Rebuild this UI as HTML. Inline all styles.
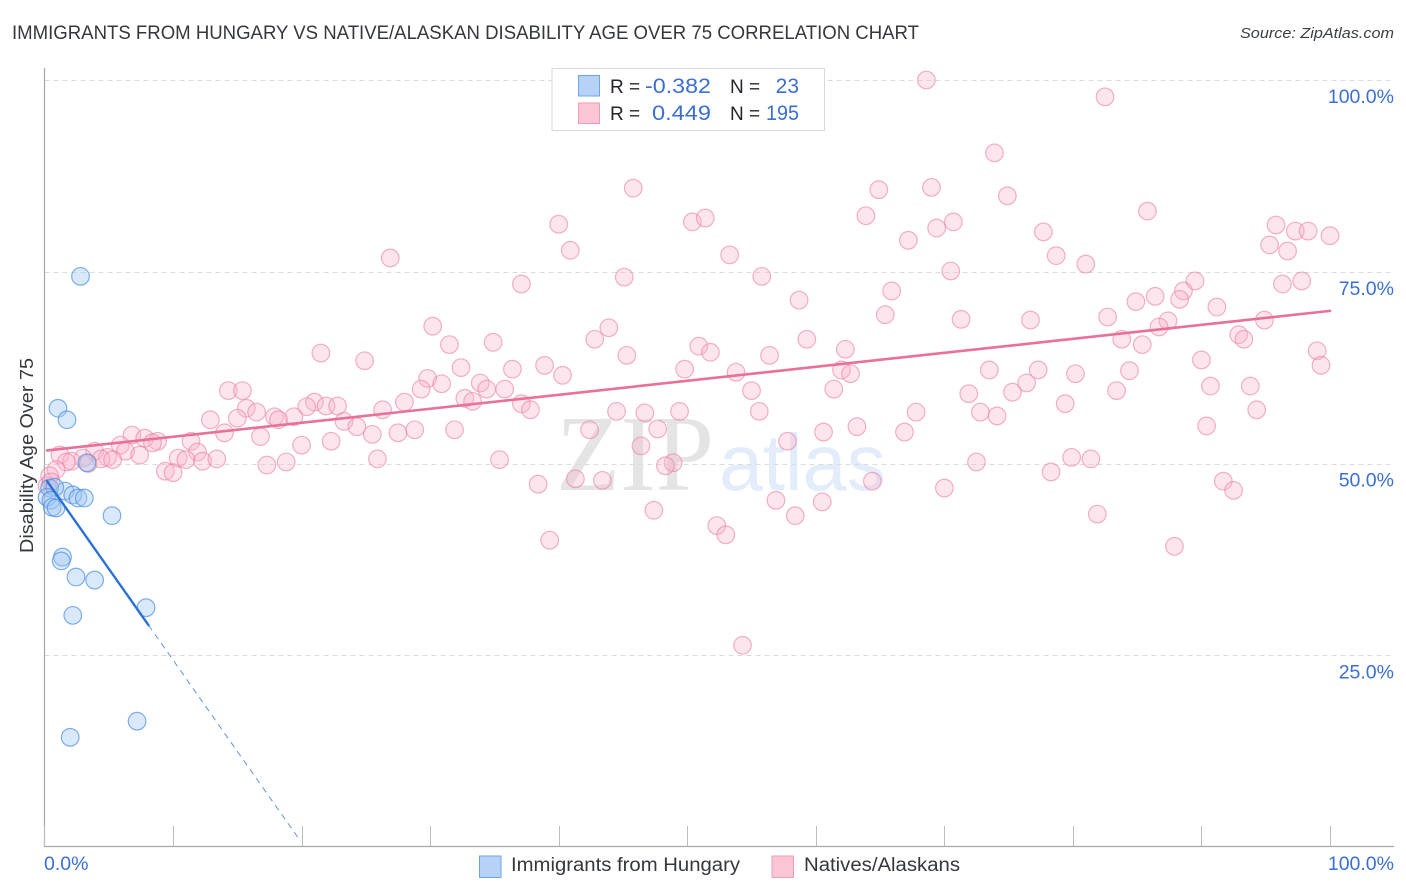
<!DOCTYPE html>
<html lang="en">
<head>
<meta charset="utf-8">
<title>Immigrants from Hungary vs Native/Alaskan Disability Age Over 75 Correlation Chart</title>
<style>
html,body{margin:0;padding:0;background:#fff;}
svg{display:block;font-family:"Liberation Sans",sans-serif;}
</style>
</head>
<body>
<svg id="chart" xmlns="http://www.w3.org/2000/svg" width="1406" height="892" viewBox="0 0 1406 892">
  <defs>
    <filter id="soft" x="-5%" y="-5%" width="110%" height="110%"><feGaussianBlur stdDeviation="0.35"/></filter>
  </defs>
  <rect x="0" y="0" width="1406" height="892" fill="#ffffff"/>
  <text x="12" y="39" font-size="19" fill="#34383c" textLength="907" lengthAdjust="spacingAndGlyphs">IMMIGRANTS FROM HUNGARY VS NATIVE/ALASKAN DISABILITY AGE OVER 75 CORRELATION CHART</text>
  <text x="1394" y="38" font-size="15" font-style="italic" fill="#3a3f44" text-anchor="end" textLength="154" lengthAdjust="spacingAndGlyphs">Source: ZipAtlas.com</text>

  <g id="watermark">
    <text x="556" y="490" font-family="'Liberation Serif',serif" font-size="108" font-weight="400" fill="#e4e4e4" textLength="158" lengthAdjust="spacingAndGlyphs">ZIP</text>
    <text x="719" y="490" font-size="80" fill="#e3ecfa" textLength="167" lengthAdjust="spacingAndGlyphs">atlas</text>
  </g>

  <g id="grid"></g>
  <g id="axes"></g>
  <g id="natives-points" filter="url(#soft)"></g>
  <g id="hungary-points" filter="url(#soft)"></g>
  <g id="trends"></g>
  <g id="tick-labels"></g>

  <text transform="translate(33,553) rotate(-90)" font-size="18" fill="#34383c" textLength="195" lengthAdjust="spacingAndGlyphs">Disability Age Over 75</text>

  <g>
    <rect x="552" y="68.500" width="272.500" height="62" fill="#ffffff" stroke="#d9d9d9" stroke-width="1"/>
    <rect x="578.500" y="75.500" width="21" height="20.500" fill="#b6d2f6" stroke="#6fa3e6" stroke-width="1"/>
    <rect x="578.500" y="103" width="21" height="20.500" fill="#fcc5d6" stroke="#ef9db6" stroke-width="1"/>
    <text x="610" y="93" font-size="19" fill="#22262a">R =</text>
    <text x="711" y="93" font-size="21" fill="#3b6fd1" text-anchor="end" textLength="66" lengthAdjust="spacingAndGlyphs">-0.382</text>
    <text x="730" y="93" font-size="19" fill="#22262a">N =</text>
    <text x="799" y="93" font-size="21" fill="#3b6fd1" text-anchor="end">23</text>
    <text x="610" y="120" font-size="19" fill="#22262a">R =</text>
    <text x="711" y="120" font-size="21" fill="#3b6fd1" text-anchor="end" textLength="59" lengthAdjust="spacingAndGlyphs">0.449</text>
    <text x="730" y="120" font-size="19" fill="#22262a">N =</text>
    <text x="799" y="120" font-size="21" fill="#3b6fd1" text-anchor="end" textLength="33" lengthAdjust="spacingAndGlyphs">195</text>
  </g>

  <g>
    <rect x="479.500" y="856" width="21.500" height="21.500" fill="#b6d2f6" stroke="#6fa3e6" stroke-width="1"/>
    <text x="511" y="871" font-size="19" fill="#34383c" textLength="229" lengthAdjust="spacingAndGlyphs">Immigrants from Hungary</text>
    <rect x="772" y="856" width="21.500" height="21.500" fill="#fcc5d6" stroke="#ef9db6" stroke-width="1"/>
    <text x="804" y="871" font-size="19" fill="#34383c" textLength="156" lengthAdjust="spacingAndGlyphs">Natives/Alaskans</text>
  </g>
</svg>
<script>
var nativesX = [68.6,82.5,73.9,45.8,64.9,69.0,74.9,85.8,63.9,40.0,50.4,51.4,69.4,70.7,67.2,77.7,95.8,97.3,98.3,100.0,95.3,96.7,40.9,53.3,26.9,78.7,81.0,70.5,45.1,55.8,37.1,96.3,97.8,89.5,65.9,86.4,88.6,88.3,58.7,84.9,91.2,65.4,71.3,76.7,82.7,87.4,94.9,86.7,30.2,43.9,92.9,93.3,42.8,59.3,83.8,85.4,31.5,34.9,50.9,62.3,51.8,99.0,21.5,45.3,56.4,90.0,24.9,99.3,38.9,32.4,36.4,49.8,73.5,77.3,53.8,62.0,62.7,80.2,84.4,40.3,29.8,30.9,76.4,33.9,90.7,93.8,29.3,34.4,35.8,61.4,55.0,83.4,14.3,15.4,71.9,75.3,32.7,33.3,28.0,21.0,20.4,21.9,22.8,37.1,79.4,37.8,15.7,16.5,26.3,44.5,46.7,49.4,55.6,67.8,72.8,94.3,15.0,12.9,17.9,19.4,18.2,23.3,74.1,24.3,90.4,42.4,47.7,63.2,60.6,66.9,25.5,27.5,28.8,31.9,14.0,16.8,6.8,7.8,8.8,11.4,8.4,5.9,20.0,22.3,57.8,46.4,6.3,3.9,7.4,1.2,4.9,3.0,4.4,5.3,2.1,1.7,11.9,10.4,11.0,12.3,13.4,17.3,18.8,25.9,35.4,48.9,48.3,72.5,79.9,81.4,9.4,10.0,78.3,0.9,38.4,41.3,43.4,64.4,91.7,92.5,70.0,56.9,60.5,47.4,58.4,81.9,52.3,53.0,39.3,87.9,54.3,3.4,0.4,0.2,0.5];
var nativesY = [100.0,97.8,90.5,85.9,85.7,86.0,84.9,82.9,82.3,81.2,81.5,82.0,80.7,81.5,79.1,80.2,81.1,80.3,80.3,79.7,78.5,77.7,77.8,77.2,76.8,77.1,76.0,75.1,74.3,74.4,73.4,73.4,73.8,73.8,72.5,71.8,72.5,71.4,71.3,71.1,70.4,69.4,68.8,68.7,69.1,68.6,68.7,67.8,67.9,67.7,66.8,66.2,66.2,66.2,66.2,65.5,65.5,65.8,65.3,64.9,64.5,64.7,64.4,64.1,64.1,63.5,63.4,62.8,62.8,62.5,62.3,62.3,62.2,62.2,61.9,62.2,61.7,61.7,62.1,61.5,61.1,60.4,60.5,60.5,60.1,60.1,59.7,59.7,59.7,59.7,59.5,59.5,59.5,59.5,59.1,59.3,58.5,58.1,58.0,58.0,57.4,57.5,57.5,57.8,57.8,57.0,57.2,56.7,57.0,56.8,56.6,56.8,56.8,56.7,56.7,57.0,55.9,55.7,56.1,56.1,55.7,55.5,56.2,54.8,54.9,54.4,54.5,54.8,54.1,54.1,53.8,54.0,54.4,54.4,54.0,53.5,53.7,53.3,52.9,52.9,52.7,52.4,52.4,52.9,52.9,52.3,51.6,51.6,51.1,51.1,50.8,50.7,50.6,50.5,50.3,50.2,51.5,50.7,50.5,50.3,50.6,49.8,50.2,50.6,50.5,50.1,49.7,50.2,50.8,50.6,49.0,48.8,48.9,49.2,47.3,48.0,47.8,47.7,47.7,46.5,46.8,45.2,45.0,43.9,43.2,43.4,41.9,40.7,40.0,39.2,26.3,50.0,48.4,47.1,47.6];
var hungaryX = [2.8,1.05,1.75,3.3,1.6,0.4,0.8,2.2,2.6,3.1,0.2,0.5,0.6,0.9,5.25,1.4,1.3,2.45,3.9,2.2,7.9,7.2,2.0];
var hungaryY = [74.4,57.2,55.7,50.1,46.4,46.8,46.9,45.9,45.5,45.5,45.6,45.2,44.3,44.2,43.2,37.8,37.3,35.2,34.8,30.2,31.2,16.4,14.3];
var nativesTrendX = [0.2,100.0];
var nativesTrendY = [51.7,69.9];
var hungaryTrendX = [0.2,8.1];
var hungaryTrendY = [47.7,28.9];
var hungaryDashX = [8.1,19.9];
var hungaryDashY = [28.9,0.8];
var yGridValues = [25,50,75,100];
var yTickLabels = ["25.0%","50.0%","75.0%","100.0%"];
var xTickValues = [0,10,20,30,40,50,60,70,80,90,100];

var svgNS = "http://www.w3.org/2000/svg";
function xScale(v){ return 44.5 + v * 12.855; }
function yScale(v){ return 847 - v * 7.67; }
function make(tag, attrs, parent){
  var el = document.createElementNS(svgNS, tag);
  for (var k in attrs) el.setAttribute(k, attrs[k]);
  parent.appendChild(el);
  return el;
}

var gridG = document.getElementById("grid");
var axesG = document.getElementById("axes");
var labelsG = document.getElementById("tick-labels");
var nativesG = document.getElementById("natives-points");
var hungaryG = document.getElementById("hungary-points");
var trendsG = document.getElementById("trends");

yGridValues.forEach(function(v, i){
  var y = Math.round(yScale(v)) + 0.5;
  var line = make("line", {x1:44.5, x2:1394, y1:y, y2:y, stroke:"#dcdcdc", "stroke-width":1, "stroke-dasharray":"5 4"}, gridG);
  
  
  var t = make("text", {x:1394, y:yScale(v) + 23, "font-size":19.5, fill:"#3b6fd1", "text-anchor":"end"}, labelsG);
  t.textContent = yTickLabels[i];
  
  
});

var yAxis = make("line", {x1:44.5, x2:44.5, y1:68, y2:847, stroke:"#a8a8a8", "stroke-width":1.2}, axesG);


var xAxis = make("line", {x1:44, x2:1394, y1:846.5, y2:846.5, stroke:"#a8a8a8", "stroke-width":1.2}, axesG);



xTickValues.forEach(function(v){
  var x = Math.round(xScale(v) - 0.01) + 0.5;
  var tick = make("line", {x1:x, x2:x, y1:826, y2:846.5, stroke:"#bdbdbd", "stroke-width":1}, axesG);
  
  
});

var xStart = make("text", {x:44, y:870, "font-size":19.5, fill:"#3b6fd1"}, labelsG);
xStart.textContent = xTickValues[0].toFixed(1) + "%";


var xEnd = make("text", {x:1394, y:870, "font-size":19.5, fill:"#3b6fd1", "text-anchor":"end"}, labelsG);
xEnd.textContent = xTickValues[xTickValues.length - 1].toFixed(1) + "%";



nativesX.forEach(function(v, i){
  var c = make("circle", {cx:xScale(v), cy:yScale(nativesY[i]), r:8.8, fill:"#f9b4c9", "fill-opacity":0.34, stroke:"#ea7fa3", "stroke-opacity":0.6, "stroke-width":1.2}, nativesG);
  
  
});

hungaryX.forEach(function(v, i){
  var c = make("circle", {cx:xScale(v), cy:yScale(hungaryY[i]), r:8.8, fill:"#9ec4f2", "fill-opacity":0.38, stroke:"#4b8fe0", "stroke-opacity":0.7, "stroke-width":1.2}, hungaryG);
  
  
});

var nativesLine = make("line", {x1:xScale(nativesTrendX[0]), y1:yScale(nativesTrendY[0]), x2:xScale(nativesTrendX[1]), y2:yScale(nativesTrendY[1]), stroke:"#e8709b", "stroke-width":2.6, "stroke-linecap":"round"}, trendsG);


var hungaryLine = make("line", {x1:xScale(hungaryTrendX[0]), y1:yScale(hungaryTrendY[0]), x2:xScale(hungaryTrendX[1]), y2:yScale(hungaryTrendY[1]), stroke:"#2a72d6", "stroke-width":2.4, "stroke-linecap":"round"}, trendsG);


var hungaryDash = make("line", {x1:xScale(hungaryDashX[0]), y1:yScale(hungaryDashY[0]), x2:xScale(hungaryDashX[1]), y2:yScale(hungaryDashY[1]), stroke:"#5f94dc", "stroke-width":1, "stroke-dasharray":"6 5"}, trendsG);


</script>
</body>
</html>
